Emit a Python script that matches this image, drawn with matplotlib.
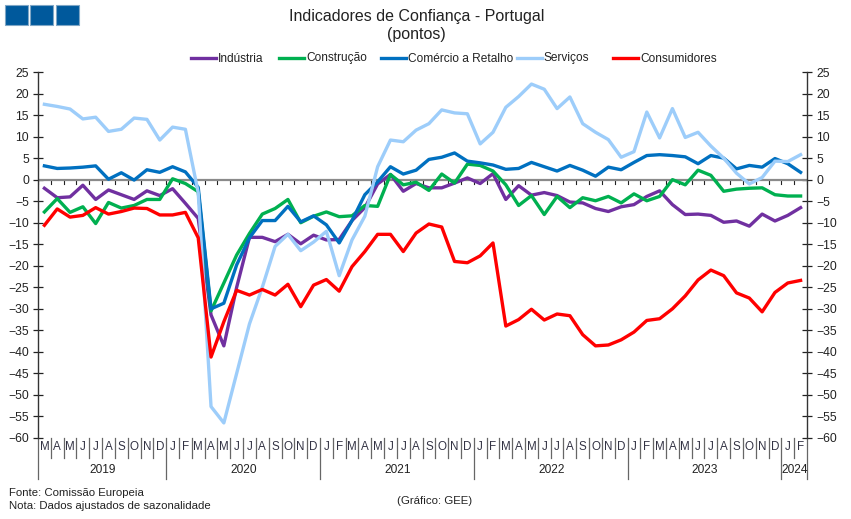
import matplotlib
matplotlib.use("Agg")
import matplotlib.pyplot as plt
from matplotlib.lines import Line2D
from matplotlib.patches import Rectangle
from matplotlib.transforms import blended_transform_factory

plt.rcParams['font.family'] = ['Liberation Sans', 'DejaVu Sans']

months = list("MAMJJASOND") + list("JFMAMJJASOND") * 4 + list("JF")
years = ["2019", "2020", "2021", "2022", "2023", "2024"]
months_per_year = [10, 12, 12, 12, 12, 2]

industria = [-2, -4.2, -4, -1.3, -4.6, -2.4, -3.5, -4.6, -2.6, -3.7,
             -2.1, -5.5, -9, -31.4, -38.6, -25, -13.4, -13.4, -14.4, -12.7, -14.9, -12.9,
             -14, -13.9, -9.5, -6.5, -1, 1.2, -2.7, -0.9, -1.9, -1.9, -0.8, 0.4,
             -0.9, 1.4, -4.6, -1.4, -3.6, -3, -3.7, -5.2, -5.4, -6.7, -7.4, -6.3,
             -5.8, -3.9, -2.6, -5.8, -8.1, -8, -8.3, -9.9, -9.6, -10.8, -8, -9.6, -8.3, -6.5]
construcao = [-7.5, -4.4, -7.6, -6.3, -10.2, -5.3, -6.6, -6, -4.6, -4.6,
              0.2, -0.9, -2.8, -30.5, -24, -17.5, -12.5, -8, -6.7, -4.6, -10, -8.5,
              -7.5, -8.6, -8.4, -6, -6.2, 1.2, -1.2, -0.6, -2.5, 1.3, -0.8, 3.6,
              3.3, 2, -1.2, -6, -3.7, -8.1, -3.9, -6.5, -4.2, -4.9, -3.9, -5.4,
              -3.3, -4.9, -3.9, 0, -1.2, 2.2, 1, -2.7, -2.2, -2, -1.9, -3.5, -3.8, -3.8]
comercio = [3.2, 2.6, 2.7, 2.9, 3.2, 0.1, 1.6, -0.1, 2.3, 1.7,
            3, 1.8, -1.8, -30, -28.7, -19.8, -13.5, -9.5, -9.5, -6.2, -9.8, -8.4,
            -10.5, -14.7, -9.5, -3.5, -0.5, 3, 1.3, 2.2, 4.7, 5.2, 6.2, 4.3,
            3.9, 3.4, 2.4, 2.6, 4, 3, 2, 3.3, 2.2, 0.8, 2.9, 2.3,
            4, 5.6, 5.8, 5.6, 5.3, 3.7, 5.6, 5, 2.5, 3.3, 2.9, 4.9, 3.7, 1.7]
servicos = [17.5, 17, 16.4, 14.1, 14.5, 11.2, 11.7, 14.3, 14, 9.2,
            12.2, 11.7, -3, -52.7, -56.5, -45, -33.5, -25, -15.5, -12.7, -16.5, -14.5,
            -12, -22.3, -14, -8.5, 3, 9.2, 8.8, 11.5, 13, 16.2, 15.5, 15.3,
            8.3, 11, 16.8, 19.3, 22.2, 21, 16.5, 19.2, 13, 11, 9.3, 5.2,
            6.5, 15.7, 9.7, 16.5, 9.8, 11, 7.8, 5, 1.5, -1, 0.5, 4.3, 4.2, 5.8]
consumidores = [-10.6, -6.8, -8.7, -8.3, -6.5, -8, -7.4, -6.6, -6.7, -8.2,
                -8.2, -7.6, -13.5, -41.2, -33, -25.7, -26.8, -25.5, -26.8, -24.3, -29.5, -24.5,
                -23.2, -25.9, -20.2, -16.7, -12.7, -12.7, -16.7, -12.4, -10.3, -11, -19, -19.3,
                -17.7, -14.7, -34, -32.5, -30.1, -32.6, -31.2, -31.6, -36, -38.6, -38.4, -37.2,
                -35.4, -32.7, -32.3, -30, -27, -23.3, -21, -22.3, -26.3, -27.5, -30.7, -26.2, -24, -23.4]

series = [("Indústria", industria, "#7030A0"),
          ("Construção", construcao, "#00B050"),
          ("Comércio a Retalho", comercio, "#0070C0"),
          ("Serviços", servicos, "#9DCDFA"),
          ("Consumidores", consumidores, "#FF0000")]
legend_left_px = [191, 279, 381, 517, 613]
yticks = list(range(-60, 30, 5))

W, H = 851, 519
fig = plt.figure(figsize=(W / 100, H / 100), dpi=100)
ax = fig.add_axes([38 / W, 1 - 438 / H, 769 / W, 366 / H])
n = len(months)
for name, vals, col in series:
    ax.plot(range(n), vals, color=col, lw=2.4, label=name, solid_joinstyle="round", zorder=3)

ax.set_xlim(-0.5, n - 0.5)
ax.set_ylim(-60, 25)
ax.set_yticks(yticks)
ax.tick_params(axis="y", direction="inout", length=7, width=0.9, labelsize=8.8, pad=3,
               left=True, right=True, labelleft=True, labelright=True, color="#222222",
               labelcolor="#222222")
ax.set_xticks([])
for s in ("top", "bottom"):
    ax.spines[s].set_visible(False)
for s in ("left", "right"):
    ax.spines[s].set_color("#333333")
    ax.spines[s].set_linewidth(1.0)

# zero line with month ticks
for i in range(n + 1):
    ax.plot([i - 0.5, i - 0.5], [0, -0.9], color="#222222", lw=0.8, zorder=1)
ax.axhline(0, color="#8a8a8a", lw=1.6, zorder=2)
trans = blended_transform_factory(ax.transData, ax.transAxes)
px_y = 1 / 366

# category axis below the plot
for i, m in enumerate(months):
    ax.text(i, -9.5 * px_y, m, transform=trans, ha="center", va="center", fontsize=8.4,
            color="#333344")
pos = 0
boundaries = [0]
for y, c in zip(years, months_per_year):
    ax.text(pos + c / 2 - 0.45, -32 * px_y, y, transform=trans, ha="center", va="center",
            fontsize=8.6, color="#222222")
    pos += c
    boundaries.append(pos)
for i in range(n + 1):
    major = i in boundaries
    ax.plot([i - 0.5, i - 0.5], [0, (-41 if major else -20) * px_y], transform=trans,
            color="#666666", lw=0.9, clip_on=False)

# titles
fig.text(416.5 / W, 1 - 16 / H, "Indicadores de Confiança - Portugal", ha="center", va="center",
         fontsize=11.5, color="#222222")
fig.text(416 / W, 1 - 35 / H, "(pontos)", ha="center", va="center", fontsize=11.5, color="#222222")

# legend
for (name, vals, col), x0 in zip(series, legend_left_px):
    fig.add_artist(Line2D([x0 / W, (x0 + 25) / W], [1 - 57.5 / H] * 2, transform=fig.transFigure,
                          color=col, lw=2.4))
    fig.text((x0 + 27) / W, 1 - 61.5 / H, name, ha="left", va="baseline", fontsize=8.6,
             color="#222222")

# footer
fig.text(9 / W, 1 - 493 / H, "Fonte: Comissão Europeia", ha="left", va="center", fontsize=8.2, color="#222222")
fig.text(9 / W, 1 - 506 / H, "Nota: Dados ajustados de sazonalidade", ha="left", va="center", fontsize=8.2, color="#222222")
fig.text(435 / W, 1 - 501 / H, "(Gráfico: GEE)", ha="center", va="center", fontsize=8.2, color="#222222")

# header squares
for x0 in (5, 30, 56):
    fig.add_artist(Rectangle((x0 / W, 1 - 25 / H), 23 / W, 20 / H, transform=fig.transFigure,
                             facecolor="#00599C", edgecolor="#7FA6C6", lw=0.8))

fig.savefig("out.png", dpi=100)
